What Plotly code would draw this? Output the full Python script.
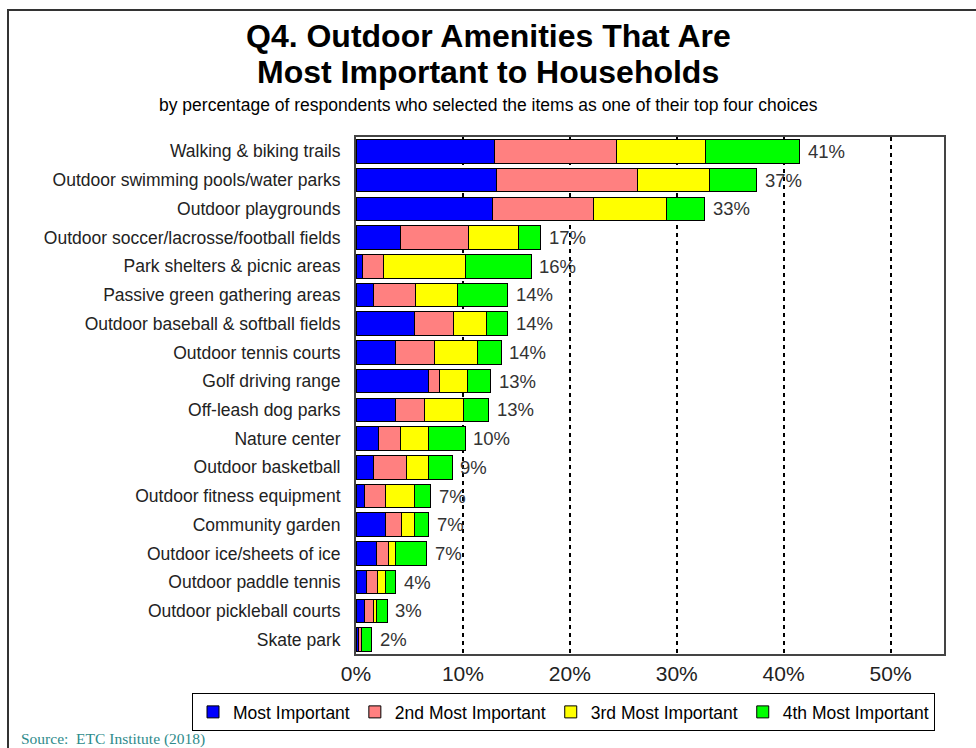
import plotly.graph_objects as go

categories = [
    "Walking & biking trails",
    "Outdoor swimming pools/water parks",
    "Outdoor playgrounds",
    "Outdoor soccer/lacrosse/football fields",
    "Park shelters & picnic areas",
    "Passive green gathering areas",
    "Outdoor baseball & softball fields",
    "Outdoor tennis courts",
    "Golf driving range",
    "Off-leash dog parks",
    "Nature center",
    "Outdoor basketball",
    "Outdoor fitness equipment",
    "Community garden",
    "Outdoor ice/sheets of ice",
    "Outdoor paddle tennis",
    "Outdoor pickleball courts",
    "Skate park",
]
most_important = [13.0, 13.1, 12.8, 4.2, 0.6, 1.6, 5.5, 3.7, 6.8, 3.7, 2.1, 1.6, 0.8, 2.8, 1.9, 1.0, 0.8, 0.25]
second_most = [11.4, 13.2, 9.4, 6.3, 2.0, 4.0, 3.6, 3.6, 1.0, 2.7, 2.1, 3.1, 2.0, 1.5, 1.1, 1.0, 0.8, 0.25]
third_most = [8.3, 6.8, 6.8, 4.7, 7.6, 3.9, 3.1, 4.1, 2.6, 3.7, 2.6, 2.1, 2.7, 1.2, 0.7, 0.8, 0.3, 0.05]
fourth_most = [8.8, 4.4, 3.6, 2.1, 6.2, 4.7, 2.0, 2.2, 2.2, 2.3, 3.4, 2.2, 1.5, 1.3, 2.9, 0.9, 1.0, 0.9]
total_labels = ["41%", "37%", "33%", "17%", "16%", "14%", "14%", "14%", "13%", "13%",
                "10%", "9%", "7%", "7%", "7%", "4%", "3%", "2%"]
series_names = ["Most Important", "2nd Most Important", "3rd Most Important", "4th Most Important"]
series_colors = ["#0000FF", "#FF8080", "#FFFF00", "#00FF00"]
x_ticks = [0, 10, 20, 30, 40, 50]
x_tick_labels = ["0%", "10%", "20%", "30%", "40%", "50%"]

W, H = 976, 748
L, R, T, B = 356, 32, 137, 94
pw, ph = W - L - R, H - T - B
FONT = "Liberation Sans, Arial, sans-serif"

fig = go.Figure()
for name, vals, col in zip(series_names, [most_important, second_most, third_most, fourth_most], series_colors):
    fig.add_trace(go.Bar(
        y=categories, x=vals, name=name, orientation="h",
        marker=dict(color=col, line=dict(color="black", width=1)),
        width=0.82,
    ))

totals = [a + b + c + d for a, b, c, d in zip(most_important, second_most, third_most, fourth_most)]
annotations = []
for cat, tot, lab in zip(categories, totals, total_labels):
    annotations.append(dict(x=tot, y=cat, xref="x", yref="y", text=lab, showarrow=False,
                            xanchor="left", xshift=6, font=dict(family=FONT, size=18.5, color="#333333")))

def px(x):
    return (x - L) / pw
def py(y):
    return (H - B - y) / ph

annotations += [
    dict(x=px(W / 2), y=py(36), xref="paper", yref="paper", text="<b>Q4. Outdoor Amenities That Are</b>",
         showarrow=False, xanchor="center", yanchor="middle",
         font=dict(family=FONT, size=32, color="black")),
    dict(x=px(W / 2), y=py(72), xref="paper", yref="paper", text="<b>Most Important to Households</b>",
         showarrow=False, xanchor="center", yanchor="middle",
         font=dict(family=FONT, size=32, color="black")),
    dict(x=px(W / 2), y=py(105), xref="paper", yref="paper",
         text="by percentage of respondents who selected the items as one of their top four choices",
         showarrow=False, xanchor="center", yanchor="middle",
         font=dict(family=FONT, size=17.5, color="black")),
    dict(x=px(19), y=py(739), xref="paper", yref="paper", text="Source:  ETC Institute (2018)",
         showarrow=False, xanchor="left", yanchor="middle",
         font=dict(family="Liberation Serif, Times New Roman, serif", size=15.5, color="#2E8B8B")),
]

shapes = [
    dict(type="rect", xref="paper", yref="paper", x0=px(8), x1=px(990), y0=py(760), y1=py(10),
         line=dict(color="#333333", width=2), fillcolor="rgba(0,0,0,0)", layer="below"),
]

fig.update_layout(
    width=W, height=H,
    margin=dict(l=L, r=R, t=T, b=B, autoexpand=False),
    barmode="stack",
    paper_bgcolor="white", plot_bgcolor="white",
    showlegend=True,
    legend=dict(orientation="h", x=px(192), xanchor="left", y=py(693), yanchor="top",
                bordercolor="black", borderwidth=1, bgcolor="white",
                font=dict(family=FONT, size=17.5, color="black"),
                itemwidth=30, traceorder="normal", tracegroupgap=0),
    xaxis=dict(range=[0, 55], tickvals=x_ticks, ticktext=x_tick_labels, showgrid=True,
               gridcolor="black", gridwidth=2, griddash="4px,4px", zeroline=False,
               showline=True, linecolor="#444444", linewidth=2, mirror=True,
               ticks="outside", ticklen=0,
               tickfont=dict(family=FONT, size=21, color="#222222")),
    yaxis=dict(categoryorder="array", categoryarray=categories[::-1], autorange=True,
               showline=True, linecolor="#444444", linewidth=2, mirror=True, showgrid=False,
               ticks="", ticklabelstandoff=10,
               tickfont=dict(family=FONT, size=17.5, color="#222222")),
    annotations=annotations,
    shapes=shapes,
)

fig.write_html("out.html", config={"displayModeBar": False},
               post_script="document.body.style.margin='0';document.body.style.padding='0';")
